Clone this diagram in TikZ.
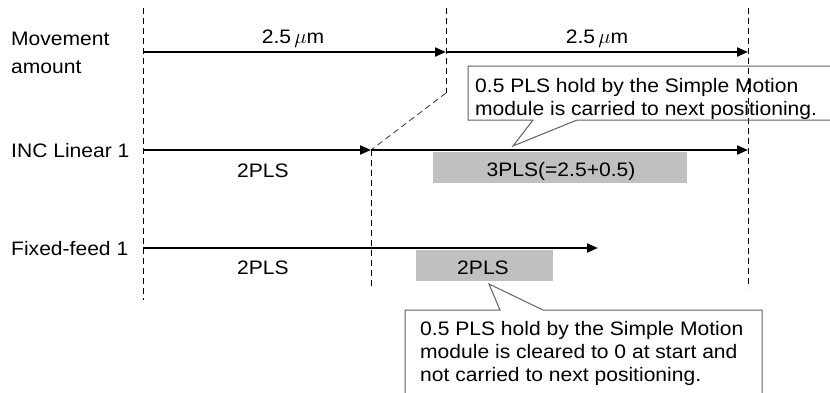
\documentclass[tikz,border=0pt]{standalone}
\usepackage{fontspec}
\setmainfont{Liberation Sans}[FakeStretch=1.08]
\usetikzlibrary{arrows.meta}
\definecolor{boxgray}{HTML}{C0C0C0}
\definecolor{callgray}{HTML}{606060}
\tikzset{
  arr/.style={line width=2pt,-{Triangle[length=11pt,width=9pt]}},
  guide/.style={line width=1pt,dash pattern=on 6pt off 4pt},
  slant/.style={line width=0.8pt,dash pattern=on 6pt off 4pt,black!80},
  lbl/.style={anchor=base west,inner sep=0pt},
  ctr/.style={anchor=base,inner sep=0pt},
  graybox/.style={fill=boxgray,draw=none},
  callout/.style={draw=callgray,line width=1pt,line join=miter},
  ctext/.style={anchor=base west,inner sep=0pt}
}
\begin{document}
\begin{tikzpicture}[x=1pt,y=-1pt,font=\fontsize{19.5}{23}\selectfont]
\useasboundingbox (0,0) rectangle (830,392);
% coordinates
\coordinate (g1t) at (143,8);   \coordinate (g1b) at (143,300);
\coordinate (g2t) at (446,8);   \coordinate (g2k) at (446,93);
\coordinate (g3t) at (371,150); \coordinate (g3b) at (371,288);
\coordinate (g4t) at (748,8);   \coordinate (g4b) at (748,288);
\coordinate (m0) at (143,52); \coordinate (m1) at (446,52); \coordinate (m2) at (748,52);
\coordinate (i0) at (143,150); \coordinate (i1) at (371,150); \coordinate (i2) at (748,150);
\coordinate (f0) at (143,248); \coordinate (f1) at (598,248);
% gray boxes
\fill[graybox] (433,152) rectangle (687,183);
\node[ctr] (t3pls) at (561,176) {3PLS(=2.5+0.5)};
\fill[graybox] (416,250) rectangle (553,281);
\node[ctr] (t2plsb) at (483,274) {2PLS};
% guides
\draw[guide] (g1t) -- (g1b);
\draw[guide] (g2t) -- (g2k);
\draw[slant] (g2k) -- (i1);
\draw[guide] (g3t) -- (g3b);
\draw[guide] (g4t) -- (g4b);
% arrows
\draw[arr] (m0) -- (m1);
\draw[arr] (m1) -- (m2);
\draw[arr] (i0) -- (i1);
\draw[arr] (i1) -- (i2);
\draw[arr] (f0) -- (f1);
% labels
\node[lbl] (mv1) at (11,45) {Movement};
\node[lbl] (mv2) at (11,73) {amount};
\node[lbl] (inc) at (11,157) {INC Linear 1};
\node[lbl] (fix) at (11,255) {Fixed-feed 1};
\node[ctr] (d1) at (293,43) {2.5\,$\mu$m};
\node[ctr] (d2) at (597,43) {2.5\,$\mu$m};
\node[ctr] (p1) at (263,177) {2PLS};
\node[ctr] (p2) at (263,274) {2PLS};
% callout 1
\draw[callout] (830,66) -- (468,66) -- (468,120) -- (533,120) -- (513,146) -- (577,120) -- (830,120);
\node[ctext] (c1a) at (475,92) {0.5 PLS hold by the Simple Motion};
\node[ctext] (c1b) at (475,115) {module is carried to next positioning.};
% callout 2
\draw[callout] (405,393) -- (405,310) -- (500,310) -- (489,284) -- (543,310) -- (762,310) -- (762,393);
\node[ctext] (c2a) at (420,335) {0.5 PLS hold by the Simple Motion};
\node[ctext] (c2b) at (420,358) {module is cleared to 0 at start and};
\node[ctext] (c2c) at (420,381) {not carried to next positioning.};
\end{tikzpicture}
\end{document}
